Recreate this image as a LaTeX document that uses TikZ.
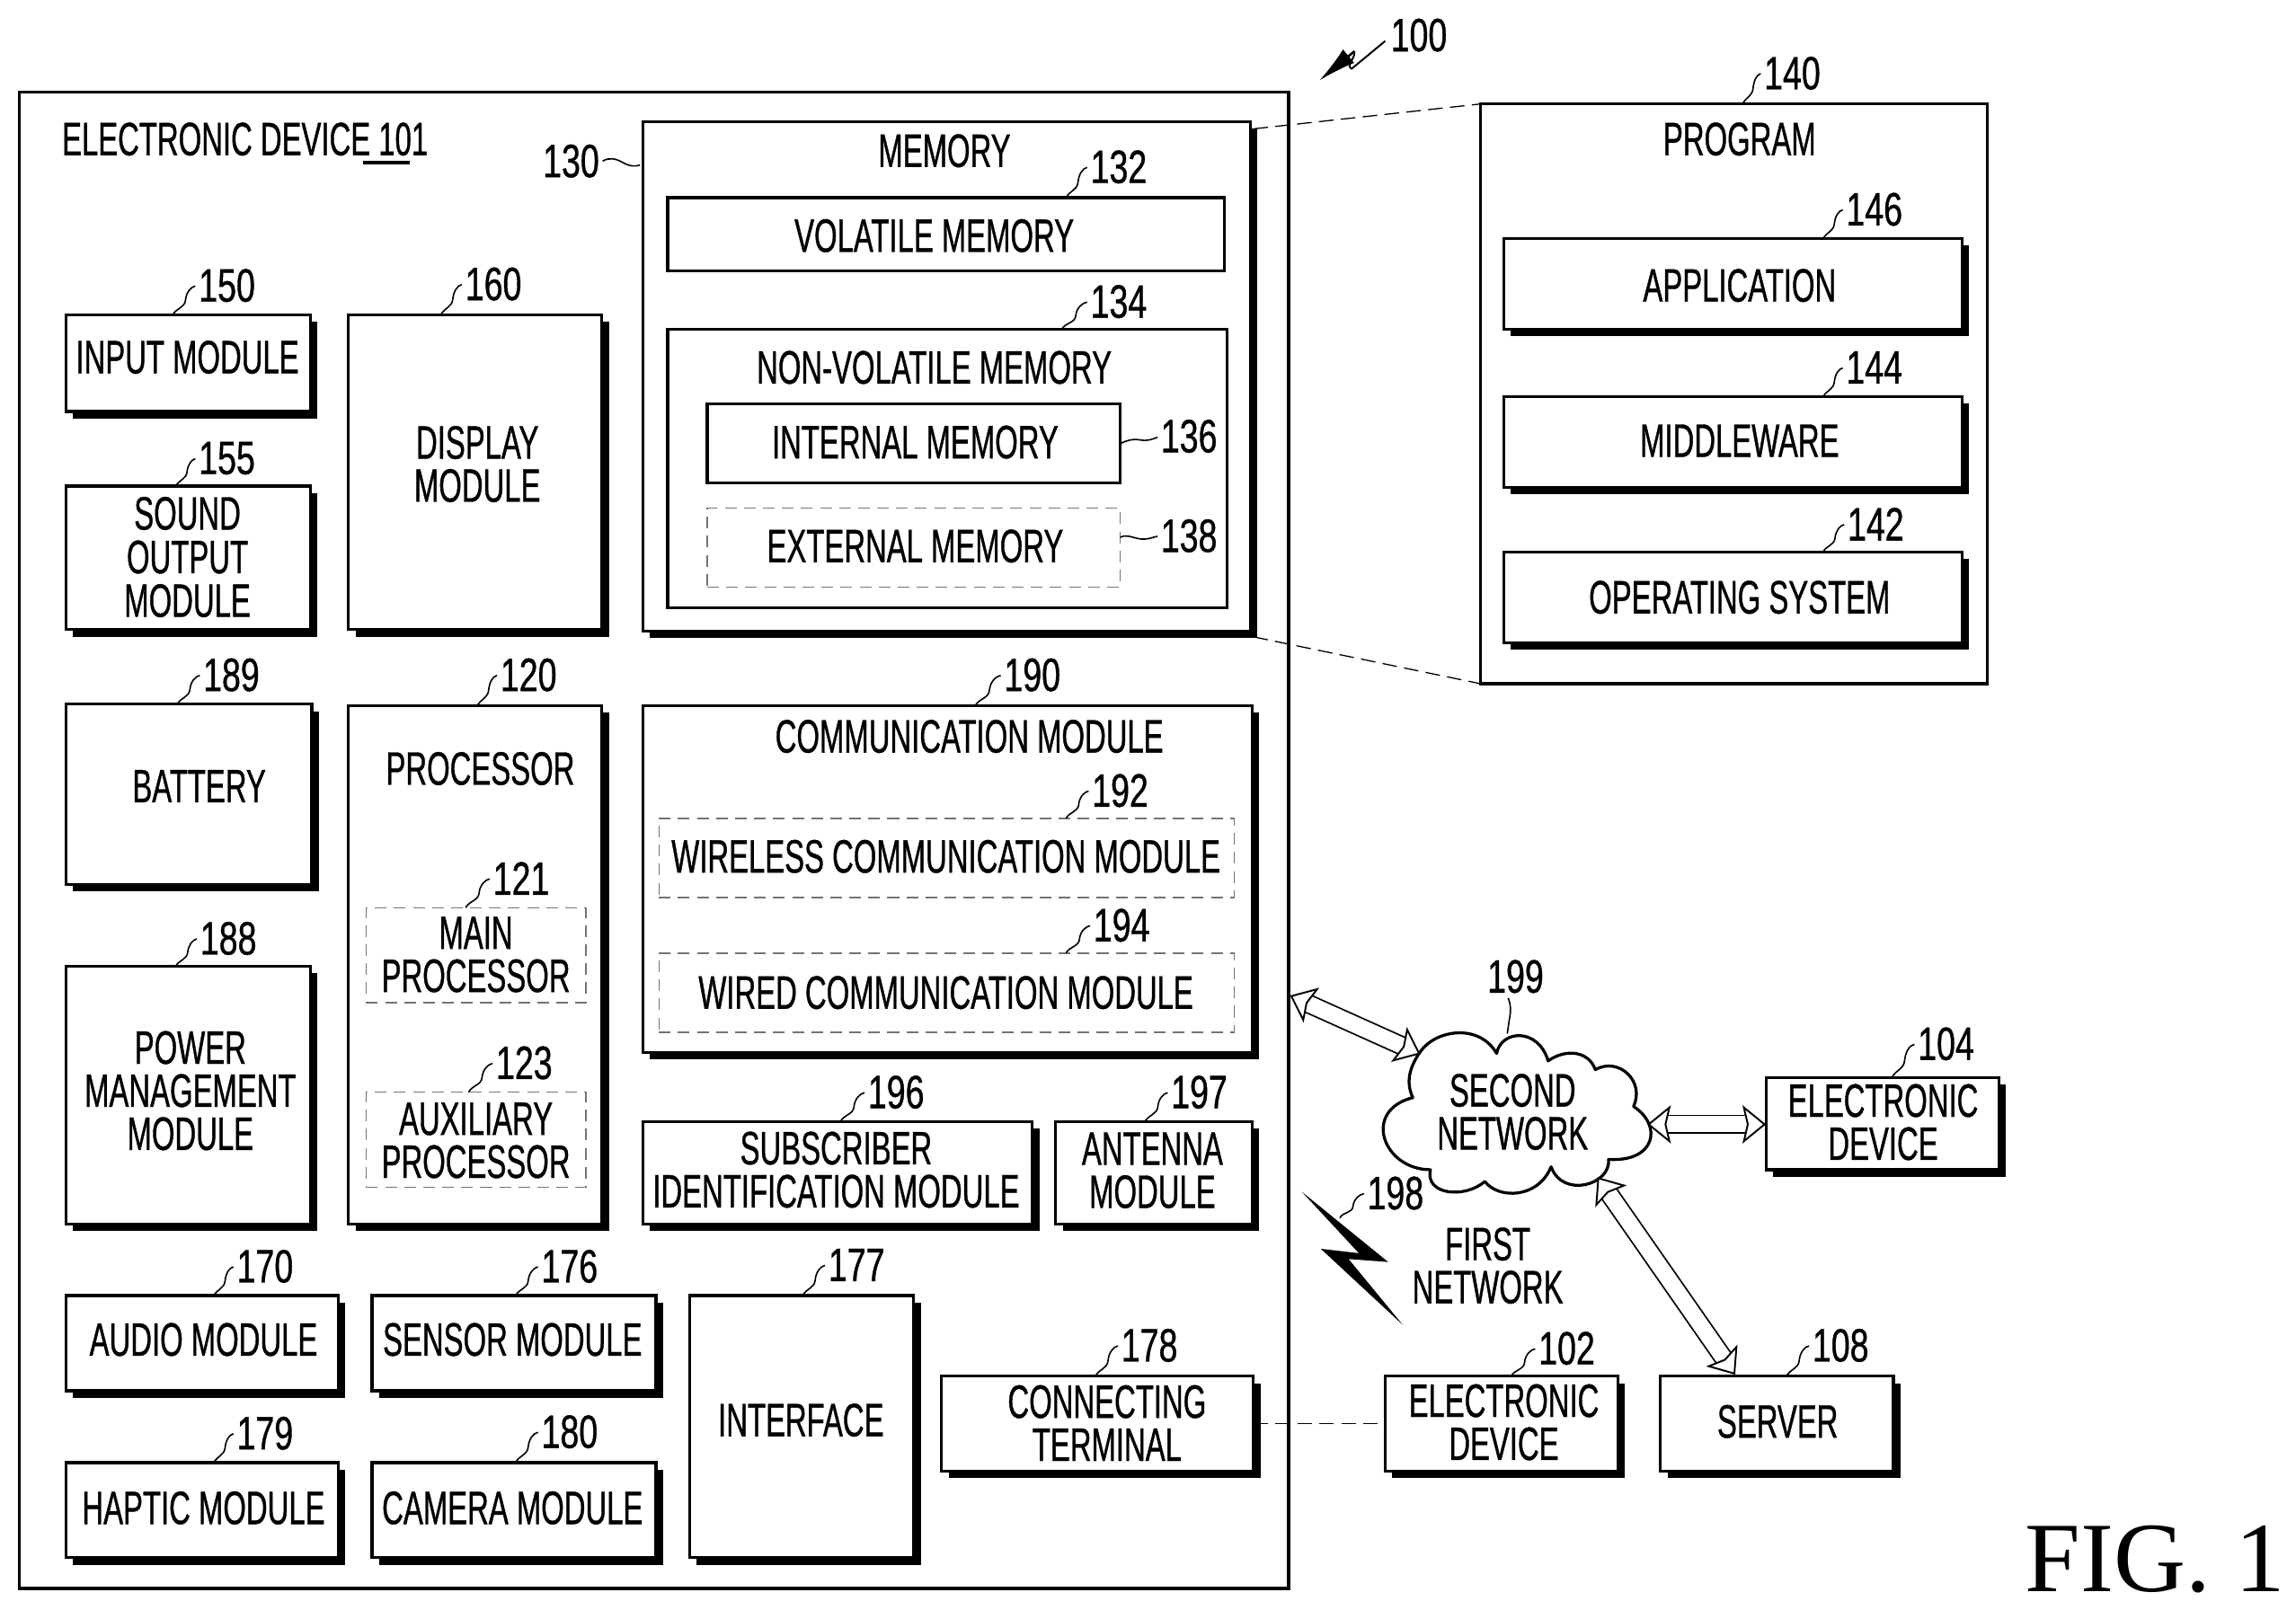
\documentclass[tikz,border=0pt]{standalone}
\usepackage{fontspec}
\setmainfont[FakeStretch=0.63,FakeBold=0.7]{Liberation Sans}
\newfontfamily\numf[FakeStretch=0.72,FakeBold=0.7]{Liberation Sans}
\newfontfamily\figf{Liberation Serif}
\usetikzlibrary{calc,shadows,arrows.meta}
\tikzset{
  bx/.style={draw=black,fill=white,line width=1pt,inner sep=0pt,outer sep=0pt},
  shbx/.style={bx,drop shadow={shadow xshift=2.4pt,shadow yshift=-2.4pt,fill=black,opacity=1}},
  dbx/.style={draw=black!55,fill=white,line width=.45pt,inner sep=0pt,outer sep=0pt,dash pattern=on 4pt off 2.5pt},
  txt/.style={font=\fontsize{16}{14.7}\selectfont,align=center,inner sep=0pt,text=black},
  numtxt/.style={font=\numf\fontsize{16}{16}\selectfont,inner sep=0pt,text=black},
  lead/.style={draw=black,line width=.5pt,shorten >=1pt},
  dl/.style={draw=black,line width=.4pt,dash pattern=on 5pt off 2.5pt},
  blk/.style={draw=black,line width=.55pt,double=white,double distance=5.5pt,
    {Stealth[open,fill=white,length=8pt,width=13pt,inset=1.5pt,line width=.6pt]}-{Stealth[open,fill=white,length=8pt,width=13pt,inset=1.5pt,line width=.6pt]}}
}
% box: [style]{name}{x1}{y1}{x2}{y2}{text x}{text y}{text}
\newcommand{\bxn}[9][shbx]{%
  \pgfmathsetmacro\bxw{(#5-#3)*0.5}%
  \pgfmathsetmacro\bxh{(#6-#4)*0.5}%
  \pgfmathsetmacro\bxcx{(#3+#5)/2}%
  \pgfmathsetmacro\bxcy{(#4+#6)/2}%
  \node[#1,minimum width=\bxw pt,minimum height=\bxh pt] (#2) at (\bxcx,\bxcy) {};%
  \node[txt] (#2-t) at (#7,#8) {#9};%
}
% number label: {name}{x}{y}{box}{dx along box top}
\newcommand{\numl}[5]{%
  \node[numtxt] (#1) at (#2,#3) {#1};%
  \draw[lead] ($(#4.north west)+(#5,0)$) to[out=62,in=-95] ($($(#4.north west)+(#5,0)$)!.5!(#1.west)$) to[out=85,in=190] (#1.west);%
}
\begin{document}
\begin{tikzpicture}[x=0.5pt,y=-0.5pt]
\useasboundingbox (0,0) rectangle (1568,1099.7);
\fill[white] (0,0) rectangle (1568,1099.7);

% main device
\pgfmathsetmacro\dw{(880-13)*0.5}\pgfmathsetmacro\dh{(1085-63)*0.5}
\node[bx,minimum width=\dw pt,minimum height=\dh pt] (dev) at (446.5,574) {};
\node[txt,anchor=west] (devt) at (42,95) {ELECTRONIC DEVICE 101};
\draw[line width=1pt] (248,111) -- (280,111);

% memory
\bxn{mem}{439}{83}{854}{431}{645}{103}{MEMORY}
\bxn[bx]{vol}{456}{135}{836}{185}{638}{161}{VOLATILE MEMORY}
\bxn[bx]{nv}{456}{225}{838}{415}{638}{251}{NON-VOLATILE MEMORY}
\bxn[bx]{int}{483}{276}{765}{330}{625}{302}{INTERNAL MEMORY}
\bxn[dbx]{ext}{483}{347}{765}{401}{625}{373}{EXTERNAL MEMORY}
\node[numtxt] (130) at (390,110) {130};
\draw[lead] (130.east) ++(2,0) coordinate (c130) to[out=30,in=150] ($(c130)!.5!(mem.west |- 0,112)$) to[out=-30,in=200] (mem.west |- 0,112);
\numl{132}{764}{114}{vol}{272}
\numl{134}{764}{206}{nv}{269}
\node[numtxt] (136) at (812,298) {136};
\draw[lead] (int.east) to[out=25,in=170] ($(int.east)!.5!(136.west)$) to[out=-10,in=200] (136.west);
\node[numtxt] (138) at (812,366) {138};
\draw[lead] (765,367) to[out=25,in=170] (778,368) to[out=-10,in=190] (138.west);

% left column
\bxn{input}{45}{215}{212}{281}{128}{244}{INPUT MODULE}
\numl{150}{155}{195}{input}{73}
\bxn{sound}{45}{332}{212}{430}{128}{380.5}{SOUND\\[.2pt]OUTPUT\\[.2pt]MODULE}
\numl{155}{155}{313}{sound}{75}
\bxn{disp}{238}{215}{411}{430}{326}{317}{DISPLAY\\MODULE}
\numl{160}{337}{194}{disp}{63}
\bxn{batt}{45}{481}{213}{604}{136}{537}{BATTERY}
\numl{189}{158}{461}{batt}{76}
\bxn{proc}{238}{482}{411}{836}{328}{525}{PROCESSOR}
\numl{120}{361}{461}{proc}{88}
\bxn[dbx]{mainp}{250}{620}{400}{685}{325}{652}{MAIN\\PROCESSOR}
\numl{121}{356}{600}{mainp}{68}
\bxn[dbx]{auxp}{250}{746}{400}{811}{325}{779}{AUXILIARY\\PROCESSOR}
\numl{123}{358}{726}{auxp}{70}
\bxn{power}{45}{660}{212}{836}{130}{745}{POWER\\MANAGEMENT\\MODULE}
\numl{188}{156}{641}{power}{75}

% communication
\bxn{comm}{439}{482}{855}{719}{662}{503}{COMMUNICATION MODULE}
\numl{190}{705}{461}{comm}{227}
\bxn[dbx]{wless}{450}{559}{843}{613}{646}{585}{WIRELESS COMMUNICATION MODULE}
\numl{192}{765}{540}{wless}{278}
\bxn[dbx]{wired}{450}{651}{843}{705}{646}{678}{WIRED COMMUNICATION MODULE}
\numl{194}{766}{632}{wired}{278}
\bxn{sim}{439}{766}{705}{836}{571}{799}{SUBSCRIBER\\IDENTIFICATION MODULE}
\numl{196}{612}{746}{sim}{135}
\bxn{ant}{721}{766}{855}{836}{787}{799.5}{ANTENNA\\MODULE}
\numl{197}{819}{746}{ant}{61}

% bottom row
\bxn{audio}{45}{885}{231}{950}{139}{915}{AUDIO MODULE}
\numl{170}{181}{865}{audio}{101}
\bxn{sensor}{254}{885}{448}{950}{350}{915}{SENSOR MODULE}
\numl{176}{389}{865}{sensor}{98}
\bxn{iface}{471}{885}{624}{1064}{547}{970}{INTERFACE}
\numl{177}{585}{864}{iface}{77}
\bxn{conn}{643}{940}{856}{1005}{756}{972}{CONNECTING\\TERMINAL}
\numl{178}{785}{919}{conn}{105}
\bxn{haptic}{45}{999}{231}{1064}{139}{1030}{HAPTIC MODULE}
\numl{179}{181}{979}{haptic}{101}
\bxn{camera}{254}{999}{448}{1064}{350}{1030}{CAMERA MODULE}
\numl{180}{389}{978}{camera}{98}

% program
\bxn[bx]{prog}{1011}{71}{1357}{467}{1188}{95}{PROGRAM}
\numl{140}{1224}{50}{prog}{179}
\bxn{app}{1027}{163}{1340}{225}{1188}{195}{APPLICATION}
\numl{146}{1280}{143}{app}{218}
\bxn{mid}{1027}{271}{1340}{333}{1188}{301}{MIDDLEWARE}
\numl{144}{1280}{251}{mid}{218}
\bxn{os}{1027}{377}{1340}{439}{1188}{408}{OPERATING SYSTEM}
\numl{142}{1281}{358}{os}{218}
\draw[dl] ($(mem.north east)+(2,5)$) -- (prog.north west);
\draw[dl] ($(mem.south east)+(2,4)$) -- (prog.south west);

% 100 arrow
\node[numtxt] (100) at (969,24) {100};
\coordinate (z1) at (946,28);
\coordinate (z2) at (923,47);
\coordinate (z3) at (925,35);
\coordinate (z4) at (901,55);
\draw[line width=.6pt,line join=round] (z1) -- (z2) to[out=150,in=-80] (z3);
\draw[line width=.8pt,-{Latex[length=13pt,width=6pt]}] (z3) -- (z4);

% cloud
\coordinate (cw) at (970,720);
\coordinate (ce) at (1125,768);
\coordinate (cs) at (1091,804);
\begin{scope}[x=0.5025pt,y=-0.5025pt]
\draw[fill=white,line width=1pt,line join=round]
  (965,715) .. controls (975,700) and (1005,695) .. (1017,716)
  .. controls (1020,700) and (1045,698) .. (1052,721)
  .. controls (1065,712) and (1080,715) .. (1084,727)
  .. controls (1100,718) and (1118,735) .. (1110,752)
  .. controls (1130,765) and (1125,790) .. (1093,788)
  .. controls (1095,805) and (1062,815) .. (1054,793)
  .. controls (1045,815) and (1018,815) .. (1009,803)
  .. controls (995,815) and (968,812) .. (972,795)
  .. controls (940,795) and (925,755) .. (960,746)
  .. controls (955,735) and (958,725) .. (965,715) -- cycle;
\end{scope}
\node[txt] (cloudt) at (1033,759.5) {SECOND\\NETWORK};
\node[numtxt] (199) at (1035,667) {199};
\draw[lead] (199.south) ++(-5,3) to[out=-70,in=80] (1031,695) to[out=-100,in=80] (1029,708);

% first network
\node[txt] (firstt) at (1016,864.5) {FIRST\\NETWORK};
\coordinate (lg) at (915,832);
\fill[black] (889,814) -- (948,862) -- (921,860) -- (958,905) -- (902,853) -- (928,856) -- cycle;
\node[numtxt] (198) at (953,815) {198};
\draw[lead] (lg) to[out=65,in=-95] (924,824) to[out=85,in=190] (198.west);

% external boxes
\bxn{e104}{1206}{736}{1365}{799}{1286}{766.5}{ELECTRONIC\\DEVICE}
\numl{104}{1329}{713}{e104}{86}
\bxn{e102}{946}{940}{1105}{1005}{1027}{971.5}{ELECTRONIC\\DEVICE}
\numl{102}{1070}{921}{e102}{86}
\bxn{server}{1134}{940}{1293}{1005}{1214}{971}{SERVER}
\numl{108}{1257}{919}{server}{86}

% connectors
\coordinate (a1) at (881,680);
\draw[blk] (a1) -- (cw);
\draw[blk] (ce) -- (e104.west |- ce);
\coordinate (a3) at (1185,939);
\draw[blk] (cs) -- (a3);
\draw[dl] (conn.east) -- (e102.west);

% figure label
\node[anchor=base east,inner sep=0pt,font=\figf\fontsize{34}{34}\selectfont] (fig) at (1561,1087) {FIG. 1};
\end{tikzpicture}
\end{document}
